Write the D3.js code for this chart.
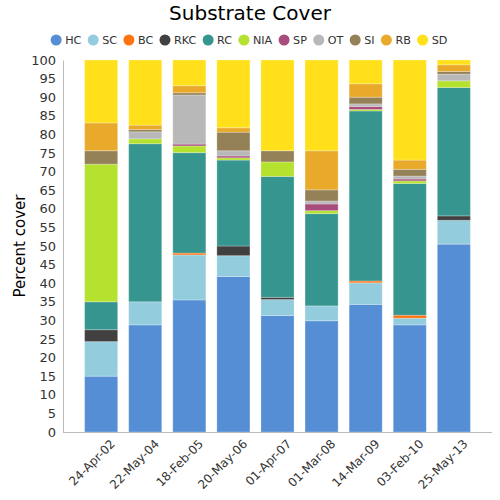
<!DOCTYPE html>
<html><head><meta charset="utf-8">
<script src="https://cdn.jsdelivr.net/npm/d3@7/dist/d3.min.js"></script>
<style>body{margin:0;background:#fff}svg{display:block;font-family:"DejaVu Sans",sans-serif}</style>
</head><body><svg id="c" width="500" height="500"></svg>
<script>
const dates = ["24-Apr-02","22-May-04","18-Feb-05","20-May-06","01-Apr-07","01-Mar-08","14-Mar-09","03-Feb-10","25-May-13"];
const seriesNames = ["HC","SC","BC","RKC","RC","NIA","SP","OT","SI","RB","SD"];
const colors = ["#558ed5","#93cddd","#ff7411","#404040","#37958f","#b5e22e","#a84d7c","#b8b8b8","#948157","#e9aa2c","#ffe01b"];
const HC  = [15.0,28.8,35.5,41.8,31.3,29.9,34.3,28.8,50.5];
const SC  = [9.3, 6.2,12.1, 5.6, 4.3, 4.0, 5.8, 1.8, 6.4];
const BC  = [0,   0,   0.5, 0,   0,   0,   0.5, 0.8, 0];
const RKC = [3.2, 0,   0,   2.6, 0.6, 0,   0,   0,   1.2];
const RC  = [7.5,42.5,27.0,23.1,32.5,24.8,45.7,35.4,34.5];
const NIA = [37.0,1.3, 1.8, 0.6, 3.9, 0.8, 0.4, 0.7, 1.8];
const SP  = [0,   0,   0.5, 0.5, 0,   1.8, 0.8, 0.5, 0];
const OT  = [0,   1.9,13.2, 1.4, 0,   0.8, 0.7, 0.8, 1.8];
const SI  = [3.6, 0.6, 0.6, 5.0, 3.0, 3.0, 1.8, 1.8, 0.7];
const RB  = [7.5, 1.2, 1.9, 1.2, 0,  10.5, 3.6, 2.5, 1.8];
const SD  = [16.9,17.5,6.9,18.2,24.4,24.4, 6.4,26.9, 1.3];
const yTicks = d3.range(0,101,5);

const values = {HC,SC,BC,RKC,RC,NIA,SP,OT,SI,RB,SD};
const rows = dates.map((d,i)=>{const r={date:d};seriesNames.forEach(s=>r[s]=values[s][i]);return r;});
const stacked = d3.stack().keys(seriesNames)(rows);

const svg = d3.select("#c");
const m = {l:63, r:8, t:60, b:68};
const W = 500, H = 500;
const x = d3.scaleBand().domain(dates).range([m.l, W-m.r]).paddingInner(0.25).paddingOuter(0.49);
const y = d3.scaleLinear().domain([0,100]).range([H-m.b, m.t]);
const color = d3.scaleOrdinal().domain(seriesNames).range(colors);

svg.append("text").attr("x",250).attr("y",20).attr("text-anchor","middle")
  .attr("font-size",20).attr("fill","#000").text("Substrate Cover");

// legend
const lg = svg.append("g");
let cx = 0;
const gap = 11.8;
seriesNames.forEach(s=>{
  const g = lg.append("g").attr("transform",`translate(${cx},40)`);
  g.append("circle").attr("r",5.5).attr("fill",color(s));
  const t = g.append("text").attr("x",9).attr("y",4.2).attr("font-size",11.2).attr("fill","#333").text(s);
  cx += 9 + t.node().getComputedTextLength() + gap;
});
const lw = cx - gap + 5.5;
lg.attr("transform",`translate(${249 - lw/2 + 5.5},0)`);

// bars
svg.append("g").selectAll("g").data(stacked).join("g").attr("fill",d=>color(d.key))
  .selectAll("rect").data(d=>d.filter(p=>p[1]-p[0]>0)).join("rect")
  .attr("x",d=>x(d.data.date)).attr("width",x.bandwidth())
  .attr("y",d=>y(d[1])).attr("height",d=>y(d[0])-y(d[1]))
  .attr("stroke","#fff").attr("stroke-opacity",0.25).attr("stroke-width",1);

// y axis
const ya = svg.append("g").attr("transform",`translate(${m.l},0)`)
  .call(d3.axisLeft(y).tickValues(yTicks).tickSize(0).tickPadding(7));
ya.select(".domain").attr("stroke","#bbb");
ya.selectAll("text").attr("font-size",13).attr("fill","#333").attr("font-family","DejaVu Sans");

// x axis
const xa = svg.append("g").attr("transform",`translate(0,${H-m.b})`)
  .call(d3.axisBottom(x).tickSize(0).tickPadding(8));
xa.select(".domain").attr("stroke","#bbb").attr("d",`M${m.l},0.5H${W-m.r}`);
xa.selectAll("text").attr("font-size",12).attr("fill","#333").attr("font-family","DejaVu Sans")
  .attr("text-anchor","end").attr("transform","translate(6,4) rotate(-45)").attr("dy","0.35em");

svg.append("text").attr("transform",`translate(25,${(m.t+H-m.b)/2}) rotate(-90)`)
  .attr("text-anchor","middle").attr("font-size",15).attr("fill","#000").text("Percent cover");
</script></body></html>
